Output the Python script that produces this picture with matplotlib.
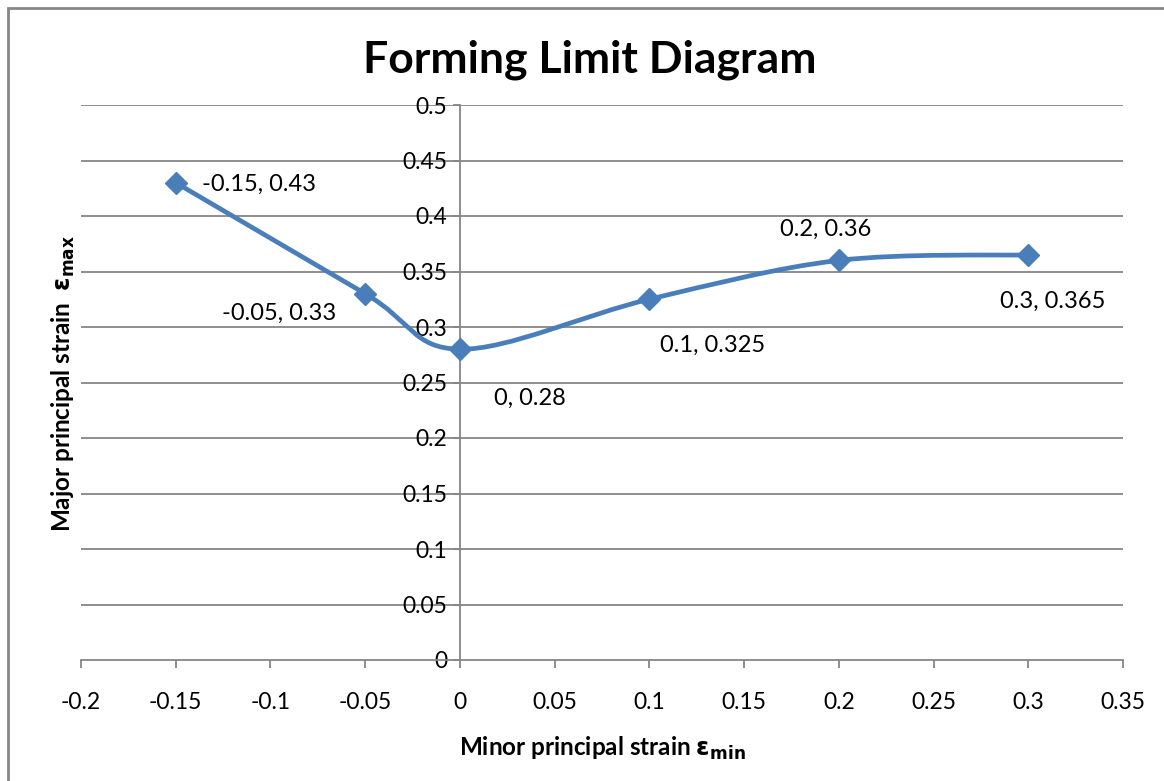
"""Forming limit diagram: major vs minor principal strain, Excel-style smooth line."""

import matplotlib
matplotlib.use("Agg")
import matplotlib.pyplot as plt
from matplotlib.path import Path
from matplotlib.patches import PathPatch, Rectangle
import numpy as np

plt.rcParams["font.family"] = ["Lato", "DejaVu Sans"]

minor_strain = [-0.15, -0.05, 0.0, 0.1, 0.2, 0.3]
major_strain = [0.43, 0.33, 0.28, 0.325, 0.36, 0.365]
point_labels = ["-0.15, 0.43", "-0.05, 0.33", "0, 0.28",
                "0.1, 0.325", "0.2, 0.36", "0.3, 0.365"]
# label offsets in pixels and alignment for each point
label_offsets = [(26, -2), (-29, -20), (34, -49), (11, -46), (-59, 31), (-28, -46)]
label_align = ["left", "right", "left", "left", "left", "left"]

x_ticks = np.round(np.arange(-0.2, 0.351, 0.05), 2)
y_ticks = np.round(np.arange(0, 0.501, 0.05), 2)

BLUE = "#4A7EBB"
GRAY = "#868686"


def smooth_path(xs, ys):
    """Bezier path through the points (Catmull-Rom style, like Excel smoothing)."""
    pts = np.column_stack([xs, ys])
    ext = np.vstack([pts[0], pts, pts[-1]])
    verts = [tuple(pts[0])]
    codes = [Path.MOVETO]
    for i in range(len(pts) - 1):
        p0, p1, p2, p3 = ext[i], ext[i + 1], ext[i + 2], ext[i + 3]
        c1 = p1 + (p2 - p0) / 6
        c2 = p2 - (p3 - p1) / 6
        verts += [tuple(c1), tuple(c2), tuple(p2)]
        codes += [Path.CURVE4] * 3
    return Path(verts, codes)


def fmt(v):
    s = f"{v:.2f}".rstrip("0").rstrip(".")
    return "0" if s in ("-0", "0") else s


fig = plt.figure(figsize=(11.64, 7.81), dpi=100)
ax = fig.add_axes([81 / 1164, 121 / 781, 1042 / 1164, 555 / 781])

ax.set_xlim(-0.2, 0.35)
ax.set_ylim(0, 0.5)

for yv in y_ticks[1:]:
    ax.axhline(yv, color=GRAY, linewidth=1.3, zorder=1)

ax.add_patch(PathPatch(smooth_path(minor_strain, major_strain), facecolor="none",
                       edgecolor=BLUE, linewidth=3.4, zorder=3, capstyle="round"))
ax.plot(minor_strain, major_strain, linestyle="none", marker="D", markersize=11,
        color=BLUE, zorder=4)

for x, y, lab, off, ha in zip(minor_strain, major_strain, point_labels,
                              label_offsets, label_align):
    ax.annotate(lab, (x, y), xytext=off, textcoords="offset pixels",
                ha=ha, va="center", fontsize=17, color="black", zorder=5)

for side in ("top", "right"):
    ax.spines[side].set_visible(False)
ax.spines["left"].set_position(("data", 0))
for side in ("left", "bottom"):
    ax.spines[side].set_color(GRAY)
    ax.spines[side].set_linewidth(1.3)

ax.set_xticks(x_ticks)
ax.set_xticklabels([fmt(v) for v in x_ticks])
ax.set_yticks(y_ticks)
ax.set_yticklabels([fmt(v) for v in y_ticks])
ax.tick_params(axis="x", direction="out", length=6, width=1.3, color=GRAY,
               labelsize=16.5, pad=17)
ax.tick_params(axis="y", direction="out", length=5, width=1.3, color=GRAY,
               labelsize=16.5, pad=4)

ax.set_xlabel("Minor principal strain $\\mathbf{\\varepsilon_{min}}$",
              fontsize=17.5, fontweight="bold", labelpad=16)
fig.text(63 / 1164, 1 - 384 / 781, "Major principal strain  $\\mathbf{\\varepsilon_{max}}$",
         rotation=90, ha="center", va="center", fontsize=17.5, fontweight="bold")

fig.text(590 / 1164, 1 - 60 / 781, "Forming Limit Diagram", ha="center", va="center",
         fontsize=32, fontweight="bold")

fig.patches.append(Rectangle((8 / 1164, -0.1), 1.2, 1.1 - 8 / 781,
                             transform=fig.transFigure, fill=False,
                             edgecolor=GRAY, linewidth=2))

fig.savefig("out.png", dpi=100)
plt.close(fig)
